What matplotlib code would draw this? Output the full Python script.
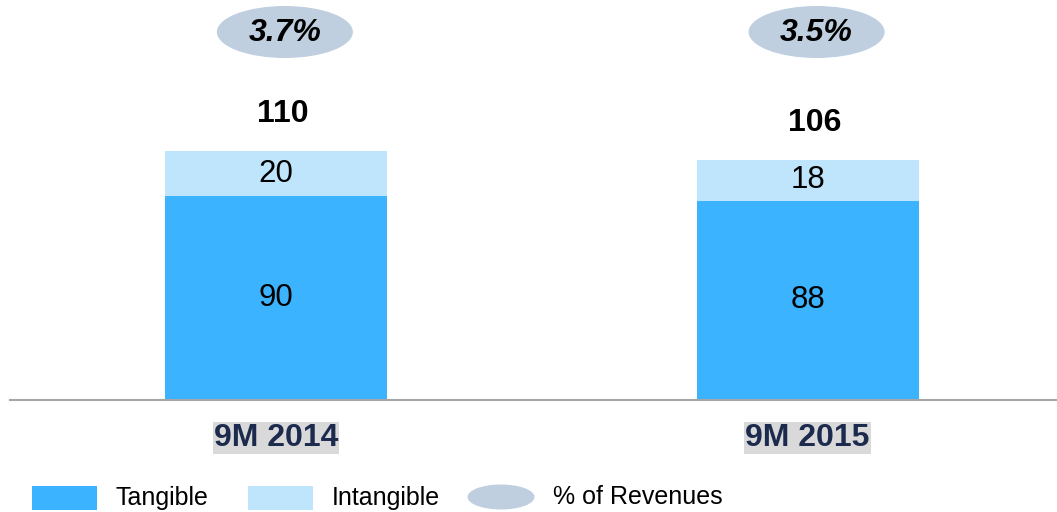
import matplotlib.pyplot as plt
from matplotlib.patches import Ellipse, Rectangle

plt.rcParams['font.family'] = ['Liberation Sans', 'DejaVu Sans']

# data
periods = ['9M 2014', '9M 2015']
tangible = [90, 88]
intangible = [20, 18]
totals = [110, 106]
pct_revenues = ['3.7%', '3.5%']

C_TANG = '#3bb3ff'
C_INTANG = '#bfe5fc'
C_ELL = '#bfcfdf'
C_NAVY = '#1c2a4e'

W, H = 1057, 512
fig = plt.figure(figsize=(W / 100, H / 100), dpi=100)
# main axes: baseline at y=400px from top, spans x 10..1057
ax = fig.add_axes([10 / W, (H - 400) / H, (W - 10) / W, 400 / H])
x = list(range(len(periods)))
ax.bar(x, tangible, width=0.4177, color=C_TANG)
ax.bar(x, intangible, bottom=tangible, width=0.4177, color=C_INTANG)
ax.set_xlim(-0.5, 1.469)
ax.set_ylim(0, 176.7)
for s in ['top', 'right', 'left']:
    ax.spines[s].set_visible(False)
ax.spines['bottom'].set_color('#a6a6a6')
ax.spines['bottom'].set_linewidth(1.5)
ax.set_xticks([])
ax.set_yticks([])

for i in x:
    ax.text(i, tangible[i] / 2, str(tangible[i]), ha='center', va='center', fontsize=22.5, color='black')
    ax.text(i, tangible[i] + intangible[i] / 2, str(intangible[i]), ha='center', va='center',
            fontsize=22.5, color='black')
    ax.annotate(str(totals[i]), (i, totals[i]), xytext=(7, 37), textcoords='offset pixels',
                ha='center', va='center', fontsize=23, fontweight='bold')

# overlay in pixel coordinates (top-left origin)
ov = fig.add_axes([0, 0, 1, 1], facecolor='none')
ov.set_xlim(0, W)
ov.set_ylim(H, 0)
ov.axis('off')

for i in x:
    px = ax.transData.transform((i, 0))[0]
    ov.add_patch(Ellipse((px + 9, 32), 136, 52, color=C_ELL, lw=0))
    ov.text(px + 9, 33, pct_revenues[i], ha='center', va='center', fontsize=23,
            fontweight='bold', style='italic')
    ov.text(px, 438, periods[i], ha='center', va='center', fontsize=23, fontweight='bold',
            color=C_NAVY, bbox=dict(boxstyle='square,pad=0.03', fc='#d9d9d9', ec='none'))

# legend
ov.add_patch(Rectangle((32, 486), 65, 24, color=C_TANG, lw=0))
ov.text(115, 498, 'Tangible', ha='left', va='center', fontsize=18)
ov.add_patch(Rectangle((248, 486), 65, 24, color=C_INTANG, lw=0))
ov.text(332, 498, 'Intangible', ha='left', va='center', fontsize=18)
ov.add_patch(Ellipse((501, 497), 67, 25, color=C_ELL, lw=0))
ov.text(553, 497, '% of Revenues', ha='left', va='center', fontsize=18)

fig.savefig('out.png', dpi=100)
